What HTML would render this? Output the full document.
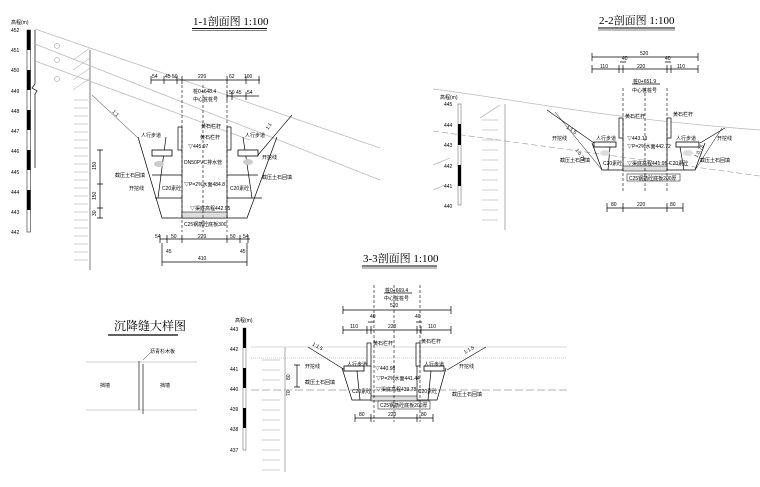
<!DOCTYPE html>
<html><head><meta charset="utf-8"><style>
html,body{margin:0;padding:0;background:#fff}
svg{display:block}
text{font-family:"Liberation Sans","Noto Sans CJK SC",sans-serif;fill:#000}
.t{font-size:6px}
.s{font-size:5px}
.g{stroke:#bbb;fill:none;stroke-width:0.8}
.k{stroke:#000;fill:none;stroke-width:0.7}
.d{stroke:#000;fill:none;stroke-width:0.6;stroke-dasharray:3 2}
.h{stroke:#999;fill:none;stroke-width:0.5}
</style></head><body>
<svg width="760" height="487" viewBox="0 0 760 487" xmlns="http://www.w3.org/2000/svg">
<!-- ============ 1-1 ============ -->
<text x="193" y="25" style="font-size:11px;font-family:'Liberation Serif','Noto Serif CJK SC',serif">1-1剖面图 1:100</text>
<line x1="192" y1="28.5" x2="267" y2="28.5" stroke="#000" stroke-width="1"/>
<line x1="192" y1="30.5" x2="267" y2="30.5" stroke="#000" stroke-width="0.5"/>
<text x="11" y="24" class="s">高程(m)</text>
<g class="s">
<text x="11" y="32">452</text><text x="11" y="52">451</text><text x="11" y="72">450</text><text x="11" y="93">449</text><text x="11" y="113">448</text><text x="11" y="133">447</text><text x="11" y="153">446</text><text x="11" y="174">445</text><text x="11" y="194">444</text><text x="11" y="214">443</text><text x="11" y="234">442</text>
</g>
<rect x="27" y="30" width="3.5" height="202" fill="#fff" stroke="#000" stroke-width="0.5"/>
<g fill="#000"><rect x="27" y="30" width="3.5" height="20"/><rect x="27" y="70" width="3.5" height="20"/><rect x="27" y="110" width="3.5" height="20"/><rect x="27" y="150" width="3.5" height="20"/><rect x="27" y="190" width="3.5" height="20"/></g>
<polyline class="k" stroke="#888" points="35,30 35,84 32,88 37,91 35,94 35,168"/>
<!-- hatched wall -->
<line x1="90" y1="50" x2="90" y2="270" stroke="#444" stroke-width="0.7"/>
<g class="h">
<path d="M73,60 L90,48 M73,70 L90,58 M73,80 L90,68 M73,90 L90,78 M74,100h14M74,108h14M74,116h14M74,124h14M74,132h14M74,140h14M74,148h14M74,156h14M74,164h14M74,172h14M74,180h14M74,188h14M74,196h14M74,204h14M74,212h14M74,220h14M74,228h14M74,236h14M74,244h14M74,252h14M74,260h14"/>
</g>
<!-- ground lines -->
<line class="g" x1="35" y1="29" x2="380" y2="148"/>
<line class="g" x1="35" y1="44" x2="380" y2="180"/>
<line class="g" x1="35" y1="61" x2="250" y2="140"/>
<circle cx="57" cy="46" r="2.5" class="g"/><circle cx="57" cy="60" r="2.5" class="g"/><circle cx="57" cy="79" r="2.5" class="g"/>
<!-- slopes -->
<line x1="92" y1="95" x2="138" y2="138" stroke="#777" stroke-width="0.6"/>
<line x1="292" y1="115" x2="258" y2="155" stroke="#000" stroke-width="0.6"/>
<text x="112" y="112" class="s" transform="rotate(45 112 112)">1:1</text>
<text x="268" y="130" class="s" transform="rotate(-55 268 130)">1:1</text>
<!-- trapezoid -->
<polyline class="k" points="138,137 162,218 247,218 277,137"/>
<line class="k" x1="152" y1="175" x2="182" y2="175"/><line class="k" x1="227" y1="175" x2="258" y2="175"/>
<line class="k" x1="155" y1="198" x2="182" y2="198"/><line class="k" x1="227" y1="198" x2="262" y2="198"/>
<line class="k" x1="166" y1="137" x2="158" y2="198"/><line class="k" x1="243" y1="137" x2="252" y2="198"/>
<rect x="152" y="150" width="20" height="6" fill="#fff" stroke="#000" stroke-width="0.8"/>
<rect x="238" y="150" width="20" height="6" fill="#fff" stroke="#000" stroke-width="0.8"/>
<ellipse cx="159" cy="164" rx="5" ry="3" fill="#ccc"/><ellipse cx="248" cy="162" rx="5" ry="3" fill="#ccc"/>
<rect x="178" y="127" width="4" height="23" fill="#fff" stroke="#000" stroke-width="0.7"/>
<rect x="227" y="127" width="4" height="23" fill="#fff" stroke="#000" stroke-width="0.7"/>
<line class="k" x1="182" y1="150" x2="182" y2="218"/><line class="k" x1="227" y1="150" x2="227" y2="218"/>
<rect x="182" y="212" width="45" height="6" fill="#ddd" stroke="#000" stroke-width="0.5"/>
<line class="d" x1="182" y1="85" x2="182" y2="232"/><line class="d" x1="203" y1="85" x2="203" y2="232"/><line class="d" x1="227" y1="85" x2="227" y2="232"/>
<g class="s">
<text x="141" y="137">人行步道</text><text x="201" y="128">黄石栏杆</text><text x="245" y="137">人行步道</text><text x="200" y="139">黄石栏杆</text>
<text x="188" y="148">▽445.97</text><text x="184" y="164">DN50PVC排水管</text>
<text x="262" y="159">开挖线</text><text x="262" y="179">截压土石回填</text><text x="115" y="177">截压土石回填</text><text x="129" y="190">开挖线</text>
<text x="184" y="186">▽P=2%水面484.8</text><text x="162" y="190">C20素砼</text><text x="230" y="190">C20素砼</text>
<text x="190" y="210">▽渠底高程442.95</text><text x="184" y="226">C25钢筋砼底板300</text>
<text x="193" y="93">桩0+648.4</text><text x="193" y="101">中心桩桩号</text>
</g>
<!-- dims 1-1 -->
<g class="k">
<path d="M151,80H260 M151,76v8 M164,76v8 M177,76v8 M182,76v8 M227,76v8 M246,76v8 M259,76v8"/>
<path d="M227,96H259 M227,92v8 M232,92v8 M246,92v8"/>
<path d="M100,150v68 M97,150h6 M97,184h6 M97,208h6 M97,218h6"/>
<path d="M160,239H250 M160,235v8 M167,235v8 M182,235v8 M227,235v8 M240,235v8 M248,235v8"/>
<path d="M162,262H247 M162,243v23 M247,243v23"/>
</g>
<g class="s">
<text x="152" y="78">54</text><text x="165" y="78">45</text><text x="172" y="78">50</text><text x="198" y="78">220</text><text x="229" y="78">62</text><text x="244" y="78">100</text>
<text x="229" y="94">50</text><text x="236" y="94">45</text><text x="247" y="94">54</text>
<text x="96" y="170" transform="rotate(-90 96 170)">150</text><text x="96" y="200" transform="rotate(-90 96 200)">150</text><text x="96" y="216" transform="rotate(-90 96 216)">30</text>
<text x="155" y="238">54</text><text x="171" y="238">50</text><text x="198" y="238">220</text><text x="230" y="238">50</text><text x="243" y="238">54</text>
<text x="166" y="253">45</text><text x="240" y="253">45</text><text x="198" y="260">410</text>
</g>
<!-- ============ 2-2 ============ -->
<text x="599" y="24" style="font-size:11px;font-family:'Liberation Serif','Noto Serif CJK SC',serif">2-2剖面图 1:100</text>
<line x1="598" y1="28" x2="675" y2="28" stroke="#000" stroke-width="1"/>
<line x1="598" y1="30" x2="675" y2="30" stroke="#000" stroke-width="0.5"/>
<g class="k">
<path d="M592,57H698 M592,53v8 M698,53v8"/>
<path d="M592,69H698 M592,65v8 M619,65v8 M623,65v8 M667,65v8 M671,65v8 M698,65v8 M620,62h6 M665,62h6"/>
<path d="M607,208H683 M607,203v9 M623,203v9 M667,203v9 M683,203v9"/>
<line x1="632" y1="84" x2="660" y2="84"/>
</g>
<g class="s">
<text x="640" y="55">520</text><text x="622" y="60">40</text><text x="665" y="60">40</text>
<text x="600" y="68">110</text><text x="637" y="68">220</text><text x="677" y="68">110</text>
<text x="633" y="83">桩0+651.9</text><text x="632" y="92">中心桩桩号</text>
<text x="611" y="206">80</text><text x="637" y="206">220</text><text x="670" y="206">80</text>
</g>
<path class="g" d="M433,89 C520,100 600,118 760,130"/>
<line x1="433" y1="131" x2="760" y2="176" stroke="#999" stroke-width="0.6" stroke-dasharray="6 3"/>
<path class="g" d="M433,165 L450,158 M433,190 L445,185 M480,118 L500,105"/>
<text x="440" y="99" class="s">高程(m)</text>
<g class="s"><text x="444" y="106">445</text><text x="444" y="127">444</text><text x="444" y="147">443</text><text x="444" y="168">442</text><text x="444" y="188">441</text><text x="444" y="208">440</text></g>
<rect x="458" y="104" width="3" height="101" fill="#fff" stroke="#555" stroke-width="0.5"/>
<rect x="458" y="124" width="3" height="21" fill="#000"/><rect x="458" y="165" width="3" height="21" fill="#000"/>
<line x1="505" y1="104" x2="505" y2="230" stroke="#888" stroke-width="0.7"/>
<g class="h"><path d="M482,120h16M482,130h16M482,140h16M482,150h16M482,160h16M482,170h16M482,180h16M482,190h16M482,200h16M482,210h16M482,220h16"/></g>
<line x1="547" y1="110" x2="594" y2="143" stroke="#000" stroke-width="0.6"/>
<line x1="555" y1="112" x2="602" y2="170" stroke="#000" stroke-width="0.5"/>
<line x1="725" y1="128" x2="700" y2="143" stroke="#000" stroke-width="0.6"/>
<line x1="722" y1="128" x2="695" y2="170" stroke="#000" stroke-width="0.5"/>
<polyline class="k" points="592,143 602,170 695,170 705,143"/>
<rect x="594" y="142" width="22" height="5" fill="#fff" stroke="#000" stroke-width="0.8"/>
<rect x="676" y="142" width="23" height="5" fill="#fff" stroke="#000" stroke-width="0.8"/>
<rect x="619" y="118" width="4" height="20" fill="#fff" stroke="#000" stroke-width="0.7"/>
<rect x="667" y="118" width="4" height="20" fill="#fff" stroke="#000" stroke-width="0.7"/>
<line class="k" x1="623" y1="138" x2="623" y2="170"/><line class="k" x1="667" y1="138" x2="667" y2="170"/>
<line class="k" x1="610" y1="147" x2="608" y2="170"/><line class="k" x1="680" y1="147" x2="684" y2="170"/>
<rect x="623" y="166" width="44" height="5" fill="#ddd" stroke="#000" stroke-width="0.5"/>
<rect x="627" y="174" width="53" height="7" fill="#fff" stroke="#000" stroke-width="0.5"/>
<ellipse cx="605" cy="153" rx="5" ry="3" fill="#ddd"/><ellipse cx="688" cy="153" rx="5" ry="3" fill="#ddd"/>
<line class="d" x1="623" y1="88" x2="623" y2="192"/><line class="d" x1="645" y1="88" x2="645" y2="192"/><line class="d" x1="667" y1="88" x2="667" y2="192"/>
<g class="s">
<text x="625" y="118">黄石栏杆</text><text x="673" y="116">黄石栏杆</text>
<text x="596" y="140">人行步道</text><text x="676" y="140">人行步道</text>
<text x="552" y="140">开挖线</text><text x="717" y="140">开挖线</text>
<text x="560" y="162">截压土石回填</text><text x="700" y="162">截压土石回填</text>
<text x="627" y="140">▽443.13</text><text x="627" y="148">▽P=2%水面442.72</text><text x="627" y="165">▽渠底高程441.95</text>
<text x="603" y="165">C20素砼</text><text x="669" y="165">C20素砼</text>
<text x="629" y="180">C25钢筋砼底板200厚</text>
<text x="566" y="128" transform="rotate(35 566 128)">1:1.5</text><text x="575" y="150" transform="rotate(55 575 150)">1:0.75</text>
<text x="697" y="158" transform="rotate(-60 697 158)">1:0.75</text>
</g>
<!-- ============ 3-3 ============ -->
<text x="363" y="262" style="font-size:11px;font-family:'Liberation Serif','Noto Serif CJK SC',serif">3-3剖面图 1:100</text>
<line x1="362" y1="266" x2="437" y2="266" stroke="#000" stroke-width="1"/>
<line x1="362" y1="268" x2="437" y2="268" stroke="#000" stroke-width="0.5"/>
<g class="k">
<path d="M343,310H451 M343,306v8 M451,306v8"/>
<path d="M343,330H451 M343,326v8 M367,326v8 M371,326v8 M417,326v8 M421,326v8 M451,326v8 M368,322h6 M416,322h6"/>
<path d="M355,418H433 M355,414v8 M371,414v8 M417,414v8 M433,414v8"/>
<line x1="384" y1="293" x2="412" y2="293"/>
<path d="M297,365v22 M294,365h6 M294,387h6"/>
</g>
<g class="s">
<text x="390" y="307">520</text><text x="370" y="318">40</text><text x="415" y="318">40</text>
<text x="350" y="328">110</text><text x="388" y="328">220</text><text x="428" y="328">110</text>
<text x="385" y="292">桩0+669.4</text><text x="384" y="300">中心桩桩号</text>
<text x="359" y="416">80</text><text x="388" y="416">220</text><text x="421" y="416">80</text>
<text x="290" y="380" transform="rotate(-90 290 380)">80</text><text x="290" y="396" transform="rotate(-90 290 396)">70</text>
</g>
<line x1="251" y1="347" x2="567" y2="347" stroke="#ccc" stroke-width="0.8"/>
<line x1="251" y1="358" x2="567" y2="358" stroke="#bbb" stroke-width="0.8" stroke-dasharray="1 1"/>
<line x1="251" y1="390" x2="567" y2="390" stroke="#999" stroke-width="0.7" stroke-dasharray="8 3"/>
<text x="235" y="322" class="s">高程(m)</text>
<g class="s"><text x="230" y="331">443</text><text x="230" y="351">442</text><text x="230" y="371">441</text><text x="230" y="391">440</text><text x="230" y="411">439</text><text x="230" y="431">438</text><text x="230" y="452">437</text></g>
<rect x="243" y="328" width="3" height="122" fill="#fff" stroke="#555" stroke-width="0.5"/>
<rect x="243" y="328" width="3" height="20" fill="#000"/><rect x="243" y="368" width="3" height="20" fill="#000"/><rect x="243" y="408" width="3" height="20" fill="#000"/>
<line x1="285" y1="347" x2="285" y2="472" stroke="#888" stroke-width="0.7"/>
<g class="h"><path d="M262,360h18M262,370h18M262,380h18M262,400h18M262,410h18M262,420h18M262,430h18M262,440h18M262,450h18M262,460h18M262,470h18"/></g>
<line x1="308" y1="347" x2="345" y2="370" stroke="#000" stroke-width="0.6"/>
<line x1="486" y1="347" x2="447" y2="370" stroke="#000" stroke-width="0.6"/>
<polyline class="k" points="342,368 352,400 437,400 446,368"/>
<rect x="344" y="366" width="20" height="5" fill="#fff" stroke="#000" stroke-width="0.8"/>
<rect x="424" y="366" width="20" height="5" fill="#fff" stroke="#000" stroke-width="0.8"/>
<rect x="367" y="343" width="4" height="23" fill="#fff" stroke="#000" stroke-width="0.7"/>
<rect x="416" y="343" width="4" height="23" fill="#fff" stroke="#000" stroke-width="0.7"/>
<line class="k" x1="371" y1="366" x2="371" y2="400"/><line class="k" x1="417" y1="366" x2="417" y2="400"/>
<line class="k" x1="357" y1="371" x2="360" y2="400"/><line class="k" x1="431" y1="371" x2="428" y2="400"/>
<rect x="371" y="396" width="46" height="5" fill="#ddd" stroke="#000" stroke-width="0.5"/>
<rect x="378" y="401" width="52" height="8" fill="#fff" stroke="#000" stroke-width="0.5"/>
<line class="d" x1="374" y1="285" x2="374" y2="422"/><line class="d" x1="394" y1="285" x2="394" y2="422"/><line class="d" x1="420" y1="285" x2="420" y2="422"/>
<g class="s">
<text x="373" y="345">黄石栏杆</text><text x="421" y="343">黄石栏杆</text>
<text x="347" y="366">人行步道</text><text x="424" y="366">人行步道</text>
<text x="305" y="368">开挖线</text><text x="459" y="368">开挖线</text>
<text x="305" y="384">截压土石回填</text><text x="452" y="396">截压土石回填</text>
<text x="375" y="370">▽440.98</text><text x="376" y="380">▽P=2%水面441.44</text><text x="376" y="391">▽渠底高程439.78</text>
<text x="352" y="393">C20素砼</text><text x="418" y="393">C20素砼</text>
<text x="380" y="407">C25钢筋砼底板200厚</text>
<text x="312" y="345" transform="rotate(30 312 345)">1:1.5</text><text x="465" y="354" transform="rotate(-30 465 354)">1:1.5</text>
</g>
<!-- 沉降缝大样图 -->
<text x="114" y="330" style="font-size:12px;font-family:'Liberation Serif','Noto Serif CJK SC',serif">沉降缝大样图</text>
<line x1="108" y1="335" x2="178" y2="335" stroke="#000" stroke-width="1.2"/>
<line x1="86" y1="362" x2="197" y2="362" stroke="#bbb" stroke-width="0.7"/>
<line x1="86" y1="410" x2="197" y2="410" stroke="#bbb" stroke-width="0.7"/>
<line x1="139" y1="361" x2="139" y2="410" stroke="#333" stroke-width="0.8"/>
<line x1="143" y1="364" x2="143" y2="414" stroke="#333" stroke-width="0.8"/>
<line x1="143" y1="360" x2="150" y2="353" stroke="#333" stroke-width="0.5"/>
<g class="s"><text x="150" y="353">沥青杉木板</text><text x="100" y="387">挡墙</text><text x="160" y="387">挡墙</text></g>
</svg>
</body></html>
